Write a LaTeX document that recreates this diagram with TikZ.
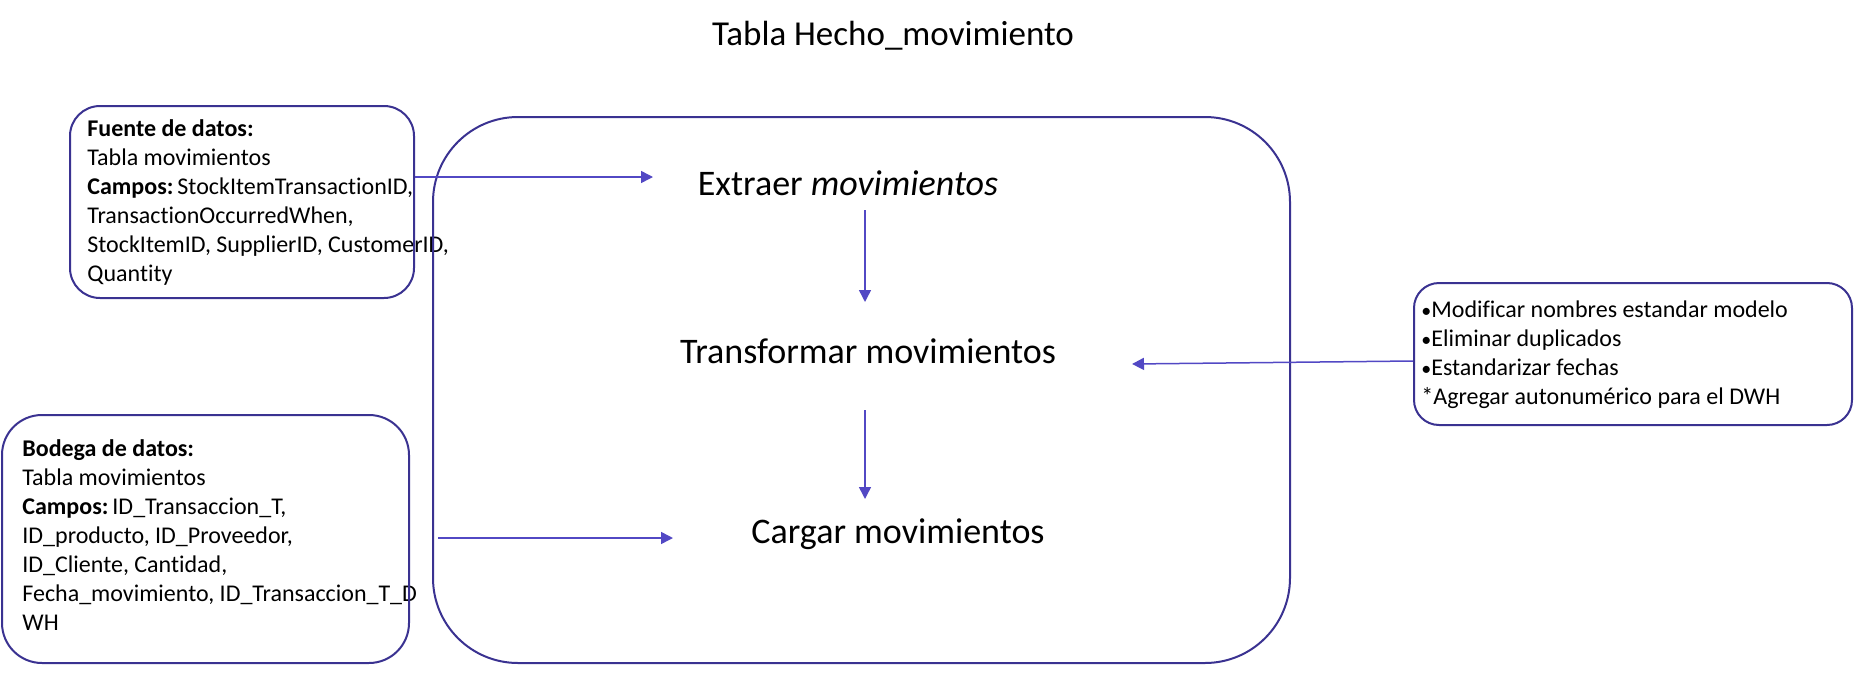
\documentclass[tikz,border=0pt]{standalone}
\usepackage{fontspec}
\setmainfont{Carlito}[Ligatures=NoCommon]
\usepackage{tikz}
\usetikzlibrary{arrows.meta, positioning}

\definecolor{borde}{RGB}{58,50,145}
\definecolor{flechacol}{RGB}{82,72,196}

\begin{document}
\begin{tikzpicture}[x=0.5pt, y=-0.5pt,
  caja/.style={draw=borde, line width=1pt, rounded corners=#1, inner sep=0pt},
  caja/.default=15pt,
  texto/.style={anchor=north west, align=left, inner sep=0pt, font=\fontsize{12}{14.5}\selectfont},
  paso/.style={anchor=base, inner sep=0pt, font=\fontsize{18}{21}\selectfont},
  flecha/.style={draw=flechacol, line width=0.75pt, -{Triangle[length=6pt,width=6pt]}}]
\useasboundingbox (0,0) rectangle (1875,691);
% flujo ETL de la tabla de hechos
\node[paso, font=\fontsize{17.5}{21}\selectfont] (titulo) at (893,45) {Tabla Hecho\_movimiento};

\node[paso] (extraer) at (848,195) {Extraer \textit{movimientos}};
\node[paso] (transformar) at (868,363) {Transformar movimientos};
\node[paso] (cargar) at (898,543) {Cargar movimientos};

\node[texto] (fuenteTxt) at (87,116) {\strut\textbf{Fuente de datos:}\\Tabla movimientos\\\textbf{Campos:}\,StockItemTransactionID,\\TransactionOccurredWhen,\\StockItemID, SupplierID, CustomerID,\\Quantity};
\node[texto] (bodegaTxt) at (22,436) {\strut\textbf{Bodega de datos:}\\Tabla movimientos\\\textbf{Campos:}\,ID\_Transaccion\_T,\\ID\_producto, ID\_Proveedor,\\ID\_Cliente, Cantidad,\\Fecha\_movimiento, ID\_Transaccion\_T\_D\\WH};
\node[texto] (cambiosTxt) at (1421,297) {\strut{\fontsize{10}{12}\selectfont•}Modificar nombres estandar modelo\\{\fontsize{10}{12}\selectfont•}Eliminar duplicados\\{\fontsize{10}{12}\selectfont•}Estandarizar fechas\\*Agregar autonumérico para el DWH};

% cajas
\node[caja=42.5pt, minimum width=428.5pt, minimum height=273pt] (etl) at (861.5,390) {};
\node[caja=15pt, minimum width=172pt, minimum height=96pt] (fuente) at (242,202) {};
\node[caja=20pt, minimum width=203.5pt, minimum height=124pt] (bodega) at (205.5,539) {};
\node[caja=12.5pt, minimum width=219pt, minimum height=71pt] (cambios) at (1633,354) {};

% flechas
\coordinate (extIn) at (653,177);
\coordinate (bajo1a) at (865,210);
\coordinate (bajo1b) at (865,302);
\coordinate (bajo2a) at (865,410);
\coordinate (bajo2b) at (865,499);
\coordinate (transIn) at (1132,364);
\coordinate (cargaIn) at (673,538);
\draw[flecha] (fuente.east |- extIn) -- (extIn);
\draw[flecha] (bajo1a) -- (bajo1b);
\draw[flecha] (bajo2a) -- (bajo2b);
\draw[flecha] ([yshift=-3.5pt]cambios.west) -- (transIn);
\draw[flecha] ([xshift=3pt]etl.west |- cargaIn) -- (cargaIn);
\end{tikzpicture}
\end{document}
